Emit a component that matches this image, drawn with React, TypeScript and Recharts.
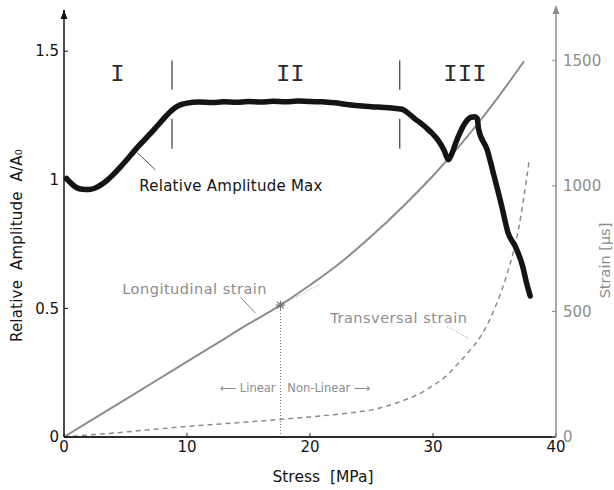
import React from "react";
import { LineChart, Line, XAxis, YAxis, ReferenceLine, ReferenceDot } from "recharts";

const FONT = "'Comic Sans MS', 'DejaVu Sans', sans-serif";
const MONO = "'Liberation Mono', 'Courier New', monospace";
const INK = "#141414";
const GREY = "#8c8c8c";

// relative amplitude A/A0 (left axis) against stress
const ampStress = [
  0.2, 0.5, 1.0, 1.5, 2.0, 2.5, 3.0, 3.5, 4.0, 4.5, 5.0, 5.5, 6.0, 6.5, 7.0, 7.5, 8.0, 8.5, 9.0, 9.5,
  10, 11, 12, 13, 14, 15, 16, 17, 18, 19, 20, 21, 22, 23, 24, 25, 26, 27, 27.5, 28, 28.5, 29, 29.5,
  30, 30.5, 30.9, 31.25, 31.6, 31.9, 32.2, 32.5, 32.8, 33.1, 33.4, 33.6, 33.7, 34.4, 34.9,
  35.6, 36.1, 36.7, 37.3, 37.6, 37.9,
];
const ampValue = [
  1.005, 0.99, 0.97, 0.963, 0.962, 0.967, 0.98, 0.998, 1.02, 1.045, 1.072, 1.1, 1.128, 1.153, 1.178,
  1.205, 1.232, 1.258, 1.279, 1.292, 1.298, 1.302, 1.3, 1.303, 1.301, 1.304, 1.302, 1.305, 1.303,
  1.306, 1.304, 1.303, 1.299, 1.293, 1.288, 1.284, 1.281, 1.277, 1.274, 1.258, 1.238, 1.22, 1.2,
  1.177, 1.148, 1.115, 1.078, 1.11, 1.15, 1.183, 1.212, 1.233, 1.243, 1.245, 1.238, 1.198, 1.117,
  1.027, 0.895, 0.794, 0.74, 0.662, 0.6, 0.548,
];

// strains in µs (right axis)
const longStress = [0, 2.5, 5, 7.5, 10, 12.5, 15, 17.6, 20, 22.5, 25, 27.5, 30, 32, 34, 36, 37.4];
const longStrain = [0, 75, 150, 225, 300, 375, 450, 525, 605, 695, 800, 915, 1040, 1150, 1270, 1400, 1496];
const transStress = [0, 5, 10, 15, 17.6, 20, 22.5, 25, 27, 29, 30, 31, 32, 33, 34, 35, 36, 36.5, 37, 37.4, 37.8];
const transStrain = [0, 20, 42, 60, 70, 80, 92, 108, 135, 175, 205, 240, 290, 345, 410, 510, 645, 730, 840, 960, 1094];

const stressTicks = [0, 10, 20, 30, 40];
const ampTicks = [0, 0.5, 1, 1.5];
const strainTicks = [0, 500, 1000, 1500];

const regionBounds = [8.78, 27.3];
const dividerSpans = [[1.464, 1.35], [1.237, 1.121]];
const regionNames = ["I", "II", "III"];
const regionCentres = [4.34, 18.4, 32.6];
const linearLimit = 17.6;

const ampData = ampStress.map((x, i) => ({ x, y: ampValue[i] }));
const longData = longStress.map((x, i) => ({ x, y: longStrain[i] }));
const transData = transStress.map((x, i) => ({ x, y: transStrain[i] }));
const limitStrain = longStrain[longStress.indexOf(linearLimit)];

const textAt =
  (
    label: string,
    opts: { color?: string; size?: number; anchor?: string; family?: string; spacing?: number }
  ) =>
  (p: any) => (
    <text
      x={p.cx}
      y={p.cy}
      textAnchor={opts.anchor || "start"}
      dominantBaseline="central"
      fill={opts.color || INK}
      fontSize={opts.size || 14}
      fontFamily={opts.family || FONT}
      letterSpacing={opts.spacing || 0}
    >
      {label}
    </text>
  );

const arrowUp = (color: string, rise: number) => (p: any) => {
  const { cx, cy } = p;
  const tip = cy - rise;
  return (
    <g>
      <line x1={cx} y1={cy} x2={cx} y2={tip + 3} stroke={color} strokeWidth={1.5} />
      <path d={`M${cx - 3.5},${tip + 9} L${cx},${tip} L${cx + 3.5},${tip + 9} Z`} fill={color} />
    </g>
  );
};

const starShape = (p: any) => {
  const { cx, cy } = p;
  const r = 4.5;
  return (
    <g stroke="#6f6f6f" strokeWidth={1.2}>
      <line x1={cx - r} y1={cy} x2={cx + r} y2={cy} />
      <line x1={cx} y1={cy - r} x2={cx} y2={cy + r} />
      <line x1={cx - 3.3} y1={cy - 3.3} x2={cx + 3.3} y2={cy + 3.3} />
      <line x1={cx - 3.3} y1={cy + 3.3} x2={cx + 3.3} y2={cy - 3.3} />
    </g>
  );
};

export default function App() {
  return (
    <div style={{ position: "absolute", left: 0, top: 0, background: "#fff" }}>
      <LineChart width={614} height={490} margin={{ top: 10, right: 0, bottom: 0, left: 0 }}>
        <XAxis
          dataKey="x"
          type="number"
          domain={[0, 40]}
          ticks={stressTicks}
          interval={0}
          height={53}
          tickSize={-4}
          tickMargin={8}
          axisLine={{ stroke: "#2a2a2a", strokeWidth: 2 }}
          tickLine={{ stroke: "#2a2a2a" }}
          tick={{ fill: INK, fontSize: 15, fontFamily: FONT }}
          label={{
            value: "Stress\u00a0 [MPa]",
            position: "center",
            dx: 13,
            dy: 13,
            fill: INK,
            fontSize: 15.5,
            fontFamily: FONT,
          }}
        />
        <YAxis
          yAxisId="amp"
          type="number"
          domain={[0, 1.66]}
          ticks={ampTicks}
          interval={0}
          width={64}
          tickSize={-4}
          tickMargin={9}
          axisLine={{ stroke: INK, strokeWidth: 1.5 }}
          tickLine={{ stroke: INK }}
          tick={{ fill: INK, fontSize: 15, fontFamily: FONT }}
          label={{
            value: "Relative\u00a0 Amplitude\u00a0 A/A₀",
            angle: -90,
            position: "center",
            dx: -15,
            dy: 22,
            fill: INK,
            fontSize: 15,
            fontFamily: FONT,
            letterSpacing: 0.2,
          }}
        />
        <YAxis
          yAxisId="strain"
          orientation="right"
          type="number"
          domain={[0, 1700]}
          ticks={strainTicks}
          interval={0}
          width={58}
          tickSize={-4}
          tickMargin={11}
          axisLine={{ stroke: GREY, strokeWidth: 1.5 }}
          tickLine={{ stroke: GREY }}
          tick={{ fill: GREY, fontSize: 15, fontFamily: FONT }}
          label={{
            value: "Strain [μs]",
            angle: -90,
            position: "center",
            dx: 20,
            dy: 37,
            fill: GREY,
            fontSize: 14.5,
            fontFamily: FONT,
          }}
        />

        {regionBounds.flatMap((b) =>
          dividerSpans.map(([top, bottom]) => (
            <ReferenceLine
              key={`${b}-${top}`}
              yAxisId="amp"
              segment={[{ x: b, y: top }, { x: b, y: bottom }]}
              stroke={INK}
              strokeWidth={1}
            />
          ))
        )}
        {regionNames.map((n, i) => (
          <ReferenceDot
            key={n}
            yAxisId="amp"
            x={regionCentres[i]}
            y={1.408}
            shape={textAt(n, { anchor: "middle", size: 24, family: MONO, color: "#2a2a2a" })}
          />
        ))}

        <ReferenceLine
          yAxisId="strain"
          segment={[{ x: linearLimit, y: 0 }, { x: linearLimit, y: limitStrain }]}
          stroke="#777"
          strokeDasharray="1 2"
        />
        <ReferenceLine
          yAxisId="strain"
          segment={[{ x: linearLimit, y: limitStrain }, { x: 20.85, y: 609 }]}
          stroke="#999"
          strokeDasharray="1 1.5"
        />

        <Line data={longData} dataKey="y" yAxisId="strain" type="monotone" stroke={GREY} strokeWidth={2} dot={false} isAnimationActive={false} />
        <Line data={transData} dataKey="y" yAxisId="strain" type="monotone" stroke={GREY} strokeWidth={1.5} strokeDasharray="5 4" dot={false} isAnimationActive={false} />
        <Line data={ampData} dataKey="y" yAxisId="amp" type="monotone" stroke={INK} strokeWidth={5.5} strokeLinejoin="round" strokeLinecap="round" dot={false} isAnimationActive={false} />

        <ReferenceLine yAxisId="amp" segment={[{ x: 5.96, y: 1.105 }, { x: 7.42, y: 1.039 }]} stroke="#555" strokeWidth={1} />
        <ReferenceLine yAxisId="strain" segment={[{ x: 14.35, y: 557 }, { x: 15.57, y: 493 }]} stroke="#888" strokeWidth={1} />
        <ReferenceLine yAxisId="strain" segment={[{ x: 31.16, y: 438 }, { x: 32.87, y: 394 }]} stroke="#999" strokeDasharray="1 1.5" />

        <ReferenceDot yAxisId="strain" x={linearLimit} y={limitStrain} shape={starShape} />
        <ReferenceDot yAxisId="amp" x={6.12} y={0.977} shape={textAt("Relative Amplitude Max", { size: 15, spacing: 0.25 })} />
        <ReferenceDot yAxisId="strain" x={4.74} y={589} shape={textAt("Longitudinal strain", { color: GREY, size: 14.5, spacing: 0.5 })} />
        <ReferenceDot yAxisId="strain" x={21.65} y={474} shape={textAt("Transversal strain", { color: GREY, size: 14.5, spacing: 0.5 })} />
        <ReferenceDot yAxisId="strain" x={17.2} y={195} shape={textAt("⟵ Linear", { color: GREY, size: 11.5, anchor: "end" })} />
        <ReferenceDot yAxisId="strain" x={18.16} y={195} shape={textAt("Non-Linear ⟶", { color: GREY, size: 11.5 })} />

        <ReferenceDot yAxisId="amp" x={0} y={1.66} ifOverflow="visible" shape={arrowUp(INK, 0)} />
        <ReferenceDot yAxisId="strain" x={40} y={1700} ifOverflow="visible" shape={arrowUp(GREY, 5)} />
      </LineChart>
    </div>
  );
}
